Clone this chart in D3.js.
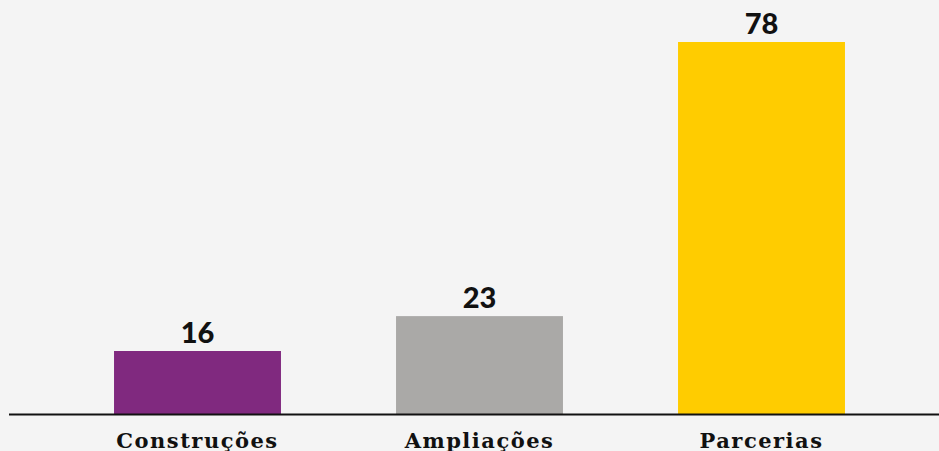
<!DOCTYPE html>
<html>
<head>
<meta charset="utf-8">
<script src="https://cdn.jsdelivr.net/npm/d3@7"></script>
<style>
  body { margin: 0; background: #f4f4f4; }
  svg { display: block; background: #f4f4f4; }
  .barLabel { font-family: Lato, 'Noto Sans', sans-serif; font-weight: 900; font-size: 29px; fill: #111; text-anchor: middle; }
  .catLabel { font-family: 'DejaVu Serif', serif; font-weight: bold; font-size: 21px; letter-spacing: 1.5px; fill: #111; text-anchor: middle; }
</style>
</head>
<body>
<svg id="chart"></svg>
<script>
const categories = ['Construções', 'Ampliações', 'Parcerias'];
const values = [16, 23, 78];
const colors = ['#80297f', '#aaa9a7', '#ffcc00'];

const width = 939, height = 451;
const baseY = 414.5;

const svg = d3.select('#chart')
	.attr('width', width)
	.attr('height', height);

// scales
const scaleX = d3.scaleBand()
	.domain(categories)
	.range([56.5, 902.5])
	.paddingInner(0.408)
	.paddingOuter(0.204);

// the baseline in the original does not sit at zero
const scaleY = d3.scaleLinear()
	.domain([3.26, 78])
	.range([baseY, 42]);

const data = categories.map((c, i) => ({cat: c, value: values[i], color: colors[i]}));

svg.selectAll('.bar')
	.data(data)
	.enter()
	.append('rect')
	.attr('class', 'bar')
	.attr('x', d => scaleX(d.cat))
	.attr('y', d => scaleY(d.value))
	.attr('width', scaleX.bandwidth())
	.attr('height', d => baseY - scaleY(d.value))
	.attr('fill', d => d.color);

svg.selectAll('.barLabel')
	.data(data)
	.enter()
	.append('text')
	.attr('class', 'barLabel')
	.attr('x', d => scaleX(d.cat) + scaleX.bandwidth() / 2)
	.attr('y', d => scaleY(d.value) - 8)
	.text(d => d.value);

// x axis: only the line and the labels
const xAxis = svg.append('g')
	.attr('transform', 'translate(0,' + baseY + ')');

xAxis.append('line')
	.attr('x1', 9)
	.attr('x2', width)
	.attr('stroke', '#111')
	.attr('stroke-width', 2);

xAxis.selectAll('.catLabel')
	.data(categories)
	.enter()
	.append('text')
	.attr('class', 'catLabel')
	.attr('x', d => scaleX(d) + scaleX.bandwidth() / 2)
	.attr('y', 33)
	.text(d => d);
</script>
</body>
</html>
